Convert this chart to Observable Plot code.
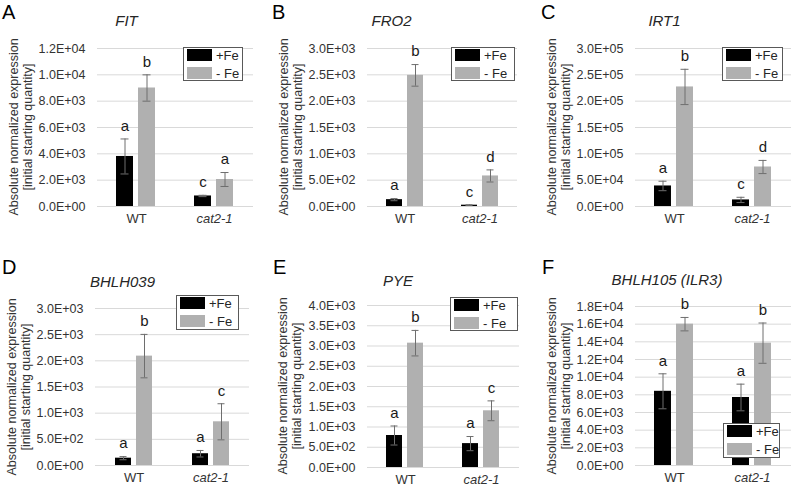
<!DOCTYPE html>
<html>
<head>
<meta charset="utf-8">
<script src="https://cdn.jsdelivr.net/npm/d3@7"></script>
<script src="https://cdn.jsdelivr.net/npm/@observablehq/plot@0.6"></script>
<style>
html, body { margin: 0; padding: 0; background: #fff; }
#chart { position: relative; width: 792px; height: 485px; overflow: hidden; font-family: 'Liberation Sans', Arial, sans-serif; }
#chart svg { position: absolute; left: 0; top: 0; }
.abs { position: absolute; white-space: nowrap; }
.letter { font-size: 20px; line-height: 1; color: #000; }
.title { font-size: 15px; font-style: italic; color: #262626; line-height: 1; transform: translate(-50%, -50%); }
.ytitle { font-size: 12.5px; color: #333; line-height: 1; transform: translate(-50%, -50%) rotate(-90deg); }
.legend { border: 1px solid #595959; background: #fff; box-sizing: border-box; }
.sw { position: absolute; width: 25px; height: 12px; }
.lt { position: absolute; font-size: 13px; line-height: 1; color: #262626; white-space: nowrap; }
</style>
</head>
<body>
<div id="chart"></div>
<script>
// ---- data ----
const groups = ["WT", "cat2-1"];
const conditions = ["+Fe", "- Fe"];
const panelLetters = ["A", "B", "C", "D", "E", "F"];
const genes = ["FIT", "FRO2", "IRT1", "BHLH039", "PYE", "BHLH105 (ILR3)"];
const yTitleLines = ["Absolute normalized expression", "[initial starting quantity]"];

// value order: WT +Fe, WT -Fe, cat2-1 +Fe, cat2-1 -Fe
const fitMean = [3800, 9000, 800, 2050];
const fitErr = [1330, 1000, 50, 530];
const fitSig = ["a", "b", "c", "a"];

const fro2Mean = [130, 2490, 25, 580];
const fro2Err = [20, 205, 8, 115];
const fro2Sig = ["a", "b", "c", "d"];

const irt1Mean = [39000, 227000, 12500, 75000];
const irt1Err = [9000, 33500, 5000, 12500];
const irt1Sig = ["a", "b", "c", "d"];

const bhlh039Mean = [140, 2090, 225, 835];
const bhlh039Err = [30, 415, 62, 345];
const bhlh039Sig = ["a", "b", "a", "c"];

const pyeMean = [790, 3070, 590, 1400];
const pyeErr = [235, 315, 175, 245];
const pyeSig = ["a", "b", "a", "c"];

const bhlh105Mean = [8400, 16000, 7700, 13850];
const bhlh105Err = [1980, 760, 1510, 2280];
const bhlh105Sig = ["a", "b", "a", "b"];

const yMax = [12000, 3000, 300000, 3000, 4000, 18000];
const yStep = [2000, 500, 50000, 500, 500, 2000];

const means = [fitMean, fro2Mean, irt1Mean, bhlh039Mean, pyeMean, bhlh105Mean];
const errs = [fitErr, fro2Err, irt1Err, bhlh039Err, pyeErr, bhlh105Err];
const sigs = [fitSig, fro2Sig, irt1Sig, bhlh039Sig, pyeSig, bhlh105Sig];

// ---- layout (page pixels) ----
const layout = [
  {plot: [97, 253, 48, 206], legend: [183, 47, 60, 34], title: [126.5, 20], letter: [2, 19]},
  {plot: [367, 517, 48, 206], legend: [451, 47, 64, 34], title: [391.5, 20], letter: [272, 19]},
  {plot: [635, 791, 48, 206], legend: [722, 47, 61, 34], title: [664.5, 20], letter: [541, 19]},
  {plot: [95, 249, 308, 465], legend: [176, 295, 63, 35], title: [122.5, 281], letter: [2, 274]},
  {plot: [366, 519, 305, 467], legend: [450, 297, 68, 34], title: [398, 280], letter: [273, 274]},
  {plot: [635, 791, 306, 465], legend: [723, 423, 57, 35], title: [667, 279], letter: [542, 274]}
];

const GRAY = "#b0b0b0";
const sci = v => {
  const [m, e] = v.toExponential(1).split("e");
  return `${m}E${e[0]}${e.slice(1).padStart(2, "0")}`;
};

const chart = document.getElementById("chart");

function addDiv(cls, text, style) {
  const d = document.createElement("div");
  d.className = cls;
  if (text != null) d.textContent = text;
  Object.assign(d.style, style);
  chart.appendChild(d);
  return d;
}

for (let i = 0; i < 6; i++) {
  const L = layout[i];
  const [x0, x1, y0, y1] = L.plot;
  const rows = means[i].map((m, j) => ({
    group: groups[Math.floor(j / 2)],
    cond: conditions[j % 2],
    mean: m,
    err: errs[i][j],
    sig: sigs[i][j]
  }));
  const ticks = d3.range(0, yMax[i] + yStep[i] / 2, yStep[i]);
  const lo = d => d.mean - d.err;
  const hi = d => d.mean + d.err;

  const svg = Plot.plot({
    width: 792,
    height: 485,
    marginLeft: x0,
    marginRight: 792 - x1,
    marginTop: y0,
    marginBottom: 485 - y1,
    style: {fontFamily: "'Liberation Sans', Arial, sans-serif", fontSize: "12.5px", color: "#333", background: "transparent", overflow: "visible"},
    fx: {domain: groups, padding: 0, axis: null, label: null},
    x: {domain: conditions, paddingInner: 0.227, paddingOuter: 0.886, axis: null},
    y: {domain: [0, yMax[i]]},
    color: {domain: conditions, range: ["#000000", GRAY]},
    marks: [
      Plot.gridY(ticks, {stroke: "#d9d9d9", strokeOpacity: 1}),
      Plot.axisY(ticks, {tickSize: 0, tickPadding: 12, tickFormat: sci, label: null, fontSize: 12.5}),
      Plot.barY(rows, {fx: "group", x: "cond", y: "mean", fill: "cond"}),
      Plot.ruleX(rows, {fx: "group", x: "cond", y1: lo, y2: hi, stroke: "#6e6e6e", strokeWidth: 1}),
      Plot.tickY(rows, {fx: "group", x: "cond", y: lo, stroke: "#6e6e6e", insetLeft: 4.5, insetRight: 4.5}),
      Plot.tickY(rows, {fx: "group", x: "cond", y: hi, stroke: "#6e6e6e", insetLeft: 4.5, insetRight: 4.5}),
      Plot.text(rows, {fx: "group", x: "cond", y: hi, text: "sig", dy: -13, fontSize: 15, fill: "#1a1a1a"}),
      Plot.text([groups[0]], {fx: d => d, text: d => d, frameAnchor: "bottom", dy: 16, fontSize: 13, fill: "#333"}),
      Plot.text([groups[1]], {fx: d => d, text: d => d, frameAnchor: "bottom", dy: 16, fontSize: 13, fill: "#333", fontStyle: "italic"})
    ]
  });
  chart.appendChild(svg);

  // panel letter, gene title
  addDiv("abs letter", panelLetters[i], {left: L.letter[0] + "px", top: (L.letter[1] - 17) + "px"});
  addDiv("abs title", genes[i], {left: L.title[0] + "px", top: L.title[1] + "px"});
  // y axis title (two lines)
  const yc = (y0 + y1) / 2;
  addDiv("abs ytitle", yTitleLines[0], {left: (x0 - 83) + "px", top: yc + "px"});
  addDiv("abs ytitle", yTitleLines[1], {left: (x0 - 69) + "px", top: yc + "px"});
  // legend
  const [lx, ly, lw, lh] = L.legend;
  const lg = addDiv("abs legend", null, {left: lx + "px", top: ly + "px", width: lw + "px", height: lh + "px"});
  conditions.forEach((c, k) => {
    const sw = document.createElement("div");
    sw.className = "sw";
    Object.assign(sw.style, {left: "3px", top: (1 + k * 18) + "px", background: k === 0 ? "#000" : GRAY});
    lg.appendChild(sw);
    const t = document.createElement("div");
    t.className = "lt";
    t.textContent = c;
    Object.assign(t.style, {left: "32px", top: (0.5 + k * 18) + "px"});
    lg.appendChild(t);
  });
}
</script>
</body>
</html>
